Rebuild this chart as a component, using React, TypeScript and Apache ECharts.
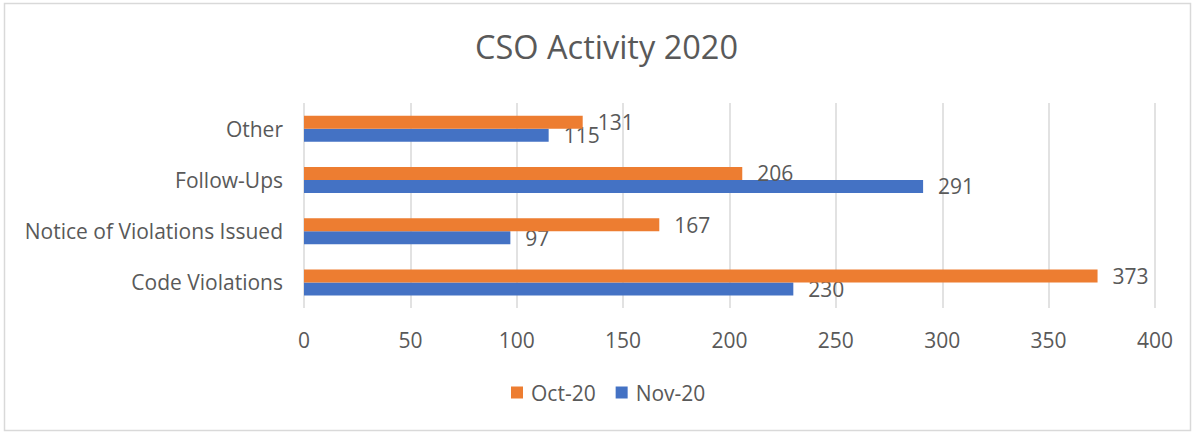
import React, { useEffect, useRef } from "react";
import * as echarts from "echarts";

const categories = ["Code Violations", "Notice of Violations Issued", "Follow-Ups", "Other"];
const oct20 = [373, 167, 206, 131];
const nov20 = [230, 97, 291, 115];
const seriesNames = ["Oct-20", "Nov-20"];
const titleText = "CSO Activity 2020";

const FONT = "'Open Sans', sans-serif";
const TXT = "#595959";

export default function App() {
  const ref = useRef<HTMLDivElement>(null);
  useEffect(() => {
    if (!ref.current) return;
    const chart = echarts.init(ref.current, undefined, { renderer: "svg" });
    const labelStyle = {
      show: true,
      position: "right" as const,
      distance: 15,
      color: TXT,
      fontSize: 21,
      fontFamily: FONT,
    };
    chart.setOption({
      animation: false,
      backgroundColor: "#ffffff",
      title: {
        text: titleText,
        left: 470,
        top: 25,
        textStyle: { color: TXT, fontSize: 32.5, fontWeight: "normal", fontFamily: FONT },
      },
      legend: {
        data: seriesNames,
        bottom: 25,
        left: 506,
        icon: "rect",
        itemWidth: 12,
        itemHeight: 12,
        itemGap: 20,
        textStyle: { color: TXT, fontSize: 21, fontFamily: FONT, padding: [0, 0, 0, 3] },
      },
      grid: { left: 304, right: 41, top: 103, bottom: 125, containLabel: false },
      xAxis: {
        type: "value",
        min: 0,
        max: 400,
        interval: 50,
        axisLine: { show: false },
        axisTick: { show: false },
        axisLabel: { color: TXT, fontSize: 21, fontFamily: FONT, margin: 21 },
        splitLine: { show: true, lineStyle: { color: "#d9d9d9", width: 1.5 } },
      },
      yAxis: {
        type: "category",
        data: categories,
        axisLine: { show: false },
        axisTick: { show: false },
        axisLabel: { color: TXT, fontSize: 21, fontFamily: FONT, margin: 21 },
      },
      series: [
        {
          name: seriesNames[0],
          type: "bar",
          data: oct20,
          itemStyle: { color: "#ED7D31" },
          barWidth: 13,
          barGap: "0%",
          label: labelStyle,
          z: 3,
        },
        {
          name: seriesNames[1],
          type: "bar",
          data: nov20,
          itemStyle: { color: "#4472C4" },
          barWidth: 13,
          barGap: "0%",
          label: labelStyle,
          z: 2,
        },
      ],
      graphic: [
        {
          type: "rect",
          shape: { x: 4.5, y: 3.5, width: 1186, height: 427 },
          style: { fill: "none", stroke: "#d9d9d9", lineWidth: 1.5 },
          silent: true,
        },
      ],
    });
    return () => chart.dispose();
  }, []);
  return (
    <div
      ref={ref}
      style={{ position: "fixed", left: 0, top: 0, width: 1196, height: 433 }}
    />
  );
}
